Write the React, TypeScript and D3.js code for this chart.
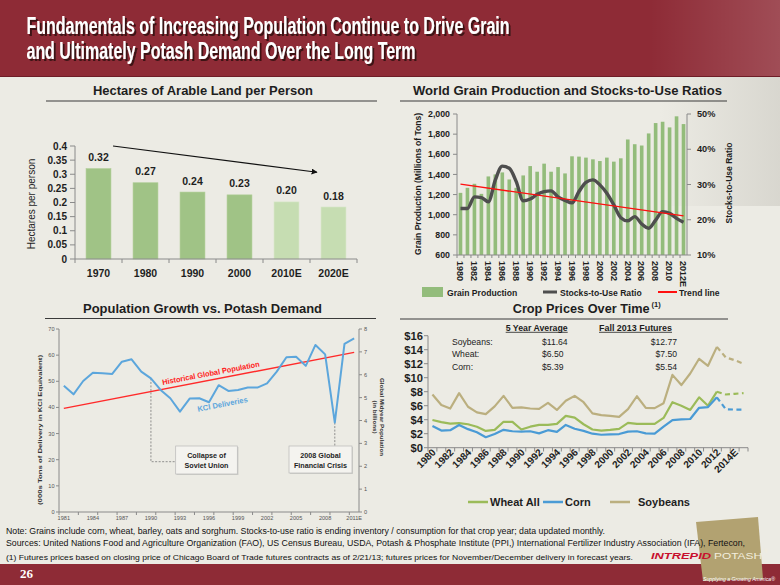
import React from "react";
import * as d3 from "d3";

// ---------------- Data ----------------
const landYears = ["1970", "1980", "1990", "2000", "2010E", "2020E"];
const landValues = [0.32, 0.27, 0.237, 0.227, 0.202, 0.184];
const landIsEstimate = [false, false, false, false, true, true];
const landTicks = [0, 0.05, 0.1, 0.15, 0.2, 0.25, 0.3, 0.35, 0.4];

const grainYears = [1980, 1981, 1982, 1983, 1984, 1985, 1986, 1987, 1988, 1989, 1990, 1991, 1992, 1993, 1994, 1995, 1996, 1997, 1998, 1999, 2000, 2001, 2002, 2003, 2004, 2005, 2006, 2007, 2008, 2009, 2010, 2011, 2012];
const grainProduction = [1217, 1267, 1307, 1207, 1380, 1400, 1420, 1350, 1267, 1390, 1483, 1427, 1507, 1427, 1473, 1410, 1580, 1577, 1567, 1550, 1533, 1567, 1527, 1560, 1747, 1700, 1687, 1807, 1910, 1923, 1867, 1977, 1900];
const stocksToUse = [23.2, 23.2, 26.5, 26.3, 25.1, 31.3, 35.2, 34.6, 30.8, 25.4, 25.9, 27.2, 28.0, 28.2, 26.5, 25.5, 24.8, 28.0, 30.6, 31.3, 29.9, 27.5, 24.2, 20.6, 19.7, 20.9, 18.8, 17.6, 19.9, 22.3, 21.8, 20.4, 19.3];
const trendYears = [1980, 2012];
const trendValues = [30.1, 21.1];
const grainTicks = [600, 800, 1000, 1200, 1400, 1600, 1800, 2000];
const ratioTicks = [10, 20, 30, 40, 50];

const kciYears = [1981, 1982, 1983, 1984, 1985, 1986, 1987, 1988, 1989, 1990, 1991, 1992, 1993, 1994, 1995, 1996, 1997, 1998, 1999, 2000, 2001, 2002, 2003, 2004, 2005, 2006, 2007, 2008, 2009, 2010, 2011];
const kciDeliveries = [48.3, 45.0, 50.1, 53.3, 53.1, 52.8, 57.5, 58.4, 53.7, 51.1, 46.7, 43.5, 38.4, 43.4, 43.5, 42.0, 48.5, 46.3, 46.7, 47.6, 47.6, 49.2, 53.7, 59.2, 59.4, 55.9, 63.9, 60.3, 34.2, 64.3, 66.4];
const popYears = [1981, 2011];
const popBillions = [4.53, 6.98];
const kciTicks = [0, 10, 20, 30, 40, 50, 60, 70];
const popTicks = [0, 1, 2, 3, 4, 5, 6, 7, 8];
const kciLabelYears = [1981, 1984, 1987, 1990, 1993, 1996, 1999, 2002, 2005, 2008, 2011];

const priceYears = [1980, 1981, 1982, 1983, 1984, 1985, 1986, 1987, 1988, 1989, 1990, 1991, 1992, 1993, 1994, 1995, 1996, 1997, 1998, 1999, 2000, 2001, 2002, 2003, 2004, 2005, 2006, 2007, 2008, 2009, 2010, 2011, 2012, 2013, 2014, 2015];
const wheatAll = [3.95, 3.65, 3.45, 3.5, 3.35, 3.0, 2.4, 2.55, 3.7, 3.7, 2.6, 3.0, 3.25, 3.25, 3.4, 4.55, 4.3, 3.35, 2.6, 2.45, 2.55, 2.7, 3.55, 3.4, 3.4, 3.4, 4.25, 6.5, 6.0, 5.4, 7.2, 6.0, 8.0, 7.6, 7.7, 7.8];
const corn = [3.1, 2.45, 2.5, 3.25, 2.65, 2.2, 1.5, 1.95, 2.55, 2.35, 2.3, 2.35, 2.05, 2.5, 2.25, 3.25, 2.7, 2.4, 2.0, 1.85, 1.9, 1.95, 2.3, 2.35, 2.05, 2.0, 3.0, 3.95, 4.05, 4.1, 5.7, 5.8, 7.2, 5.5, 5.45, 5.45];
const soybeans = [7.6, 6.1, 5.6, 7.8, 5.85, 5.05, 4.8, 5.9, 7.4, 5.7, 5.75, 5.6, 5.55, 6.4, 5.4, 6.7, 7.4, 6.5, 4.9, 4.65, 4.55, 4.4, 5.5, 7.35, 5.7, 5.65, 6.35, 10.4, 8.95, 10.6, 12.7, 11.7, 14.4, 12.9, 12.5, 12.0];
const lastActualYear = 2012;
const priceTicks = [0, 2, 4, 6, 8, 10, 12, 14, 16];
const tableCrops = ["Soybeans:", "Wheat:", "Corn:"];
const fiveYearAvg = ["$11.64", "$6.50", "$5.39"];
const fall2013Futures = ["$12.77", "$7.50", "$5.54"];

// ---------------- Style ----------------
const FONT = "'Liberation Sans', Arial, Helvetica, sans-serif";
const NARROW = "'Liberation Sans Narrow', 'Arial Narrow', 'Liberation Sans', Arial, sans-serif";
const RED_BANNER = "#8E2B36";
const BG = "#ECEBE4";
const AXIS = "#8A8A8A";
const TXT = "#1E1E1E";
const C_WHEAT = "#9BBB59";
const C_CORN = "#4A9BD5";
const C_SOY = "#BBAF7F";

function ChartTitle({ x, y, text, len, x1, x2, uy }: any) {
  return (
    <g>
      <text x={x} y={y} textAnchor="middle" fontWeight="bold" fontSize={13} fill={TXT} textLength={len} lengthAdjust="spacingAndGlyphs">{text}</text>
      <line x1={x1} x2={x2} y1={uy} y2={uy} stroke="#3A3A3A" strokeWidth={1.2} />
    </g>
  );
}

function LandChart() {
  const x = d3.scaleBand<string>().domain(landYears).range([75, 357]);
  const y = d3.scaleLinear().domain([0, 0.4]).range([259, 146]);
  const bw = x.bandwidth() * 0.53;
  const fmt = (t: number) => String(+t.toFixed(2));
  return (
    <g>
      <ChartTitle x={203} y={95} text="Hectares of Arable Land per Person" len={220} x1={46} x2={377} uy={101} />
      {landValues.map((v, i) => {
        const cx = x(landYears[i])! + x.bandwidth() / 2;
        return (
          <g key={i}>
            <rect x={cx - bw / 2} y={y(v)} width={bw} height={y(0) - y(v)} fill={landIsEstimate[i] ? "#C6DDB2" : "#A0C386"} stroke={landIsEstimate[i] ? "#D5E6C6" : "#B0CE98"} strokeWidth={0.6} />
            <text x={cx} y={y(v) - 7.5} textAnchor="middle" fontWeight="bold" fontSize={10.5} fill={TXT}>{v.toFixed(2)}</text>
            <text x={cx} y={276.5} textAnchor="middle" fontWeight="bold" fontSize={10.5} fill={TXT}>{landYears[i]}</text>
          </g>
        );
      })}
      <line x1={75} x2={75} y1={y(0.4)} y2={y(0)} stroke={AXIS} />
      <line x1={75} x2={357} y1={y(0)} y2={y(0)} stroke={AXIS} />
      {landTicks.map((t) => (
        <g key={t}>
          <line x1={70} x2={75} y1={y(t)} y2={y(t)} stroke={AXIS} />
          <text x={67} y={y(t) + 3.6} textAnchor="end" fontWeight="bold" fontSize={10} fill={TXT}>{fmt(t)}</text>
        </g>
      ))}
      {landYears.concat([""]).map((c, i) => (
        <line key={i} x1={75 + i * x.step()} x2={75 + i * x.step()} y1={y(0)} y2={y(0) + 4} stroke={AXIS} />
      ))}
      <text transform="translate(35,204) rotate(-90)" textAnchor="middle" fontSize={10} fill={TXT}>Hectares per person</text>
      <line x1={x("1970")! + 38} y1={y(0.4)} x2={x("2020E")! + 7} y2={y(0.307)} stroke="#111" strokeWidth={1.2} markerEnd="url(#arrowHead)" />
    </g>
  );
}

function GrainChart() {
  const x = d3.scaleBand<number>().domain(grainYears).range([457, 687]);
  const cx = (yr: number) => x(yr)! + x.bandwidth() / 2;
  const yL = d3.scaleLinear().domain([600, 2000]).range([255, 114]);
  const yR = d3.scaleLinear().domain([10, 50]).range([255, 114]);
  const bw = x.bandwidth() * 0.52;
  const stockLine = d3.line<number>().x((_, i) => cx(grainYears[i])).y((d) => yR(d)).curve(d3.curveMonotoneX);
  const trendLine = d3.line<number>().x((_, i) => cx(trendYears[i])).y((d) => yR(d));
  return (
    <g>
      <ChartTitle x={567.5} y={95} text="World Grain Production and Stocks-to-Use Ratios" len={309} x1={400} x2={727} uy={101} />
      {grainProduction.map((v, i) => (
        <rect key={i} x={cx(grainYears[i]) - bw / 2} y={yL(v)} width={bw} height={yL(600) - yL(v)} fill="#93BC7B" />
      ))}
      <path d={stockLine(stocksToUse)!} fill="none" stroke="#4E4E4E" strokeWidth={3.4} strokeLinejoin="round" />
      <path d={trendLine(trendValues)!} fill="none" stroke="#FF1010" strokeWidth={1.4} />
      <line x1={457} x2={457} y1={114} y2={255} stroke={AXIS} />
      <line x1={687} x2={687} y1={114} y2={255} stroke={AXIS} />
      <line x1={457} x2={687} y1={255} y2={255} stroke={AXIS} />
      {grainTicks.map((t) => (
        <g key={t}>
          <line x1={453} x2={457} y1={yL(t)} y2={yL(t)} stroke={AXIS} />
          <text x={450} y={yL(t) + 3.2} textAnchor="end" fontWeight="bold" fontSize={8.8} fill={TXT}>{d3.format(",")(t)}</text>
        </g>
      ))}
      {ratioTicks.map((t) => (
        <g key={t}>
          <line x1={687} x2={691} y1={yR(t)} y2={yR(t)} stroke={AXIS} />
          <text x={697} y={yR(t) + 3.2} fontWeight="bold" fontSize={9.2} fill={TXT}>{t + "%"}</text>
        </g>
      ))}
      {grainYears.map((yr, i) => (
        <g key={yr}>
          <line x1={x(yr)!} x2={x(yr)!} y1={255} y2={258} stroke={AXIS} />
          {i % 2 === 0 && (
            <text transform={`translate(${cx(yr) - 3.2},261) rotate(90)`} fontWeight="bold" fontSize={9} fill={TXT}>{yr === 2012 ? "2012E" : String(yr)}</text>
          )}
        </g>
      ))}
      <text transform="translate(421,184) rotate(-90)" textAnchor="middle" fontWeight="bold" fontSize={9.2} fill={TXT} textLength={142} lengthAdjust="spacingAndGlyphs">Grain Production (Millions of Tons)</text>
      <text transform="translate(732,183) rotate(-90)" textAnchor="middle" fontWeight="bold" fontSize={9.2} fill={TXT} textLength={81} lengthAdjust="spacingAndGlyphs">Stocks-to-Use Ratio</text>
      {/* legend */}
      <rect x={422} y={287} width={21} height={10} fill="#93BC7B" />
      <text x={447} y={295.5} fontWeight="bold" fontSize={8.6} fill={TXT}>Grain Production</text>
      <line x1={543} x2={557} y1={292} y2={292} stroke="#4E4E4E" strokeWidth={3} />
      <text x={560} y={295.5} fontWeight="bold" fontSize={8.6} fill={TXT}>Stocks-to-Use Ratio</text>
      <line x1={658} x2={677} y1={292} y2={292} stroke="#FF1010" strokeWidth={2} />
      <text x={679} y={295.5} fontWeight="bold" fontSize={8.6} fill={TXT}>Trend line</text>
    </g>
  );
}

function PotashChart() {
  const x = d3.scaleBand<number>().domain(kciYears).range([59, 359]);
  const cx = (yr: number) => x(yr)! + x.bandwidth() / 2;
  const y = d3.scaleLinear().domain([0, 70]).range([512, 329]);
  const yR = d3.scaleLinear().domain([0, 8]).range([512, 329]);
  const kciLine = d3.line<number>().x((_, i) => cx(kciYears[i])).y((d) => y(d));
  const popLine = d3.line<number>().x((_, i) => cx(popYears[i])).y((d) => yR(d));
  const soviet = { x: cx(1990), y: y(kciDeliveries[kciYears.indexOf(1990)]) };
  const crisis = { x: cx(2009), y: y(kciDeliveries[kciYears.indexOf(2009)]) };
  const tickFont = 5.6;
  return (
    <g>
      <ChartTitle x={202.5} y={313} text="Population Growth vs. Potash Demand" len={239} x1={45} x2={376} uy={318.5} />
      <line x1={59} x2={59} y1={329} y2={512} stroke={AXIS} />
      <line x1={359} x2={359} y1={329} y2={512} stroke={AXIS} />
      <line x1={59} x2={359} y1={512} y2={512} stroke={AXIS} />
      {kciTicks.map((t) => (
        <g key={t}>
          <line x1={56} x2={59} y1={y(t)} y2={y(t)} stroke={AXIS} />
          <text x={54.5} y={y(t) + 2} textAnchor="end" fontSize={tickFont} fill="#555">{t}</text>
        </g>
      ))}
      {popTicks.map((t) => (
        <g key={t}>
          <line x1={359} x2={362} y1={yR(t)} y2={yR(t)} stroke={AXIS} />
          <text x={364} y={yR(t) + 2} fontSize={tickFont} fill="#555">{t}</text>
        </g>
      ))}
      {d3.range(0, kciYears.length + 1, 2).map((i) => (
        <line key={i} x1={59 + i * x.step()} x2={59 + i * x.step()} y1={512} y2={515} stroke={AXIS} />
      ))}
      {kciLabelYears.map((yr) => (
        <text key={yr} x={cx(yr)} y={520} textAnchor="middle" fontSize={tickFont} fill="#555">{yr === 2011 ? "2011E" : String(yr)}</text>
      ))}
      <text transform="translate(42,430) rotate(-90)" textAnchor="middle" fontWeight="bold" fontSize={6.2} fill="#333" textLength={150} lengthAdjust="spacingAndGlyphs">(000s Tons of Delivery in KCl Equivalent)</text>
      <text transform="translate(380,417) rotate(90)" textAnchor="middle" fontWeight="bold" fontSize={6.2} fill="#333">Global Midyear Population</text>
      <text transform="translate(373,417) rotate(90)" textAnchor="middle" fontWeight="bold" fontSize={6.2} fill="#333">(in billions)</text>

      {/* annotations */}
      <polyline points={`${soviet.x},${soviet.y} ${soviet.x},461.7 175.7,461.7`} fill="none" stroke="#777" strokeWidth={0.8} strokeDasharray="2,1.5" />
      <line x1={crisis.x} x2={crisis.x} y1={crisis.y} y2={446} stroke="#777" strokeWidth={0.8} strokeDasharray="2,1.5" />
      <rect x={176.5} y={447} width={62} height={28} fill="#9A9A9A" opacity={0.35} />
      <rect x={175.7} y={446} width={61.6} height={28} fill="#F4F3EF" stroke="#B8B8B8" strokeWidth={0.7} />
      <text x={206.5} y={457.5} textAnchor="middle" fontWeight="bold" fontSize={7.2} fill={TXT}>Collapse of</text>
      <text x={206.5} y={468} textAnchor="middle" fontWeight="bold" fontSize={7.2} fill={TXT}>Soviet Union</text>
      <rect x={290} y={447} width={63} height={27} fill="#9A9A9A" opacity={0.35} />
      <rect x={289} y={446} width={63} height={27} fill="#F4F3EF" stroke="#B8B8B8" strokeWidth={0.7} />
      <text x={320.5} y={457.5} textAnchor="middle" fontWeight="bold" fontSize={7.2} fill={TXT}>2008 Global</text>
      <text x={320.5} y={468} textAnchor="middle" fontWeight="bold" fontSize={7.2} fill={TXT}>Financial  Crisis</text>

      <path d={popLine(popBillions)!} fill="none" stroke="#FF2A2A" strokeWidth={1.4} />
      <path d={kciLine(kciDeliveries)!} fill="none" stroke="#5CA6DC" strokeWidth={2} strokeLinejoin="round" />
      <text transform="translate(162.7,385) rotate(-10.8)" fontWeight="bold" fontSize={7.6} fill="#FF1A1A" textLength={99} lengthAdjust="spacingAndGlyphs">Historical Global Population</text>
      <text transform="translate(198,411.7) rotate(-11)" fontWeight="bold" fontSize={7.6} fill="#5CA6DC" textLength={51} lengthAdjust="spacingAndGlyphs">KCI Deliveries</text>
    </g>
  );
}

function CropChart() {
  const x = d3.scaleBand<number>().domain(priceYears).range([428, 748]);
  const cx = (yr: number) => x(yr)! + x.bandwidth() / 2;
  const y = d3.scaleLinear().domain([0, 16]).range([447.7, 335.7]);
  const series = [
    { name: "Soybeans", values: soybeans, color: C_SOY },
    { name: "Wheat All", values: wheatAll, color: C_WHEAT },
    { name: "Corn", values: corn, color: C_CORN },
  ];
  const lineGen = d3.line<[number, number]>().x((d) => cx(d[0])).y((d) => y(d[1]));
  const legend = [
    { name: "Wheat All", color: C_WHEAT, x: 468 },
    { name: "Corn", color: C_CORN, x: 543 },
    { name: "Soybeans", color: C_SOY, x: 610 },
  ];
  return (
    <g>
      <text x={512.7} y={313} fontWeight="bold" fontSize={12.2} fill={TXT} textLength={137} lengthAdjust="spacingAndGlyphs">Crop Prices Over Time</text>
      <text x={651.5} y={307} fontWeight="bold" fontSize={7.5} fill={TXT}>(1)</text>
      <line x1={400} x2={728} y1={319} y2={319} stroke="#3A3A3A" strokeWidth={1.2} />

      {/* table */}
      <text x={536.7} y={330.5} textAnchor="middle" fontWeight="bold" fontSize={8.8} fill={TXT} textLength={62} lengthAdjust="spacingAndGlyphs">5 Year Average</text>
      <line x1={505.7} x2={567.7} y1={332.3} y2={332.3} stroke={TXT} strokeWidth={0.8} />
      <text x={635.5} y={330.5} textAnchor="middle" fontWeight="bold" fontSize={8.8} fill={TXT} textLength={73} lengthAdjust="spacingAndGlyphs">Fall 2013  Futures</text>
      <line x1={599} x2={672} y1={332.3} y2={332.3} stroke={TXT} strokeWidth={0.8} />
      {tableCrops.map((c, i) => (
        <g key={c} fontSize={8.6} fill="#222">
          <text x={452} y={344.5 + i * 12.8}>{c}</text>
          <text x={542} y={344.5 + i * 12.8}>{fiveYearAvg[i]}</text>
          <text x={677} y={344.5 + i * 12.8} textAnchor="end">{fall2013Futures[i]}</text>
        </g>
      ))}

      {/* axes */}
      <line x1={428} x2={428} y1={335.7} y2={447.7} stroke={AXIS} />
      <line x1={428} x2={748} y1={447.7} y2={447.7} stroke={AXIS} />
      {priceTicks.map((t) => (
        <g key={t}>
          <line x1={424} x2={428} y1={y(t)} y2={y(t)} stroke={AXIS} />
          <text x={423} y={y(t) + 4} textAnchor="end" fontWeight="bold" fontSize={11.2} fill={TXT}>{"$" + t}</text>
        </g>
      ))}
      {priceYears.concat([2016]).map((yr, i) => (
        <line key={yr} x1={428 + i * x.step()} x2={428 + i * x.step()} y1={447.7} y2={451.5} stroke={AXIS} />
      ))}
      {priceYears.filter((yr, i) => i % 2 === 0).map((yr) => (
        <text key={yr} transform={`translate(${cx(yr) + 4},453) rotate(-45)`} textAnchor="end" fontWeight="bold" fontSize={10} fill={TXT}>{yr === 2014 ? "2014E" : String(yr)}</text>
      ))}

      {series.map((s) => {
        const pts = priceYears.map((yr, i) => [yr, s.values[i]] as [number, number]);
        const actual = pts.filter((p) => p[0] <= lastActualYear);
        const forecast = pts.filter((p) => p[0] >= lastActualYear);
        return (
          <g key={s.name}>
            <path d={lineGen(actual)!} fill="none" stroke={s.color} strokeWidth={2.2} strokeLinejoin="round" />
            <path d={lineGen(forecast)!} fill="none" stroke={s.color} strokeWidth={2.2} strokeDasharray="5,3.5" />
          </g>
        );
      })}

      {legend.map((l) => (
        <g key={l.name}>
          <line x1={l.x} x2={l.x + 20} y1={502} y2={502} stroke={l.color} strokeWidth={2.5} />
          <text x={l.x + (l.name === "Soybeans" ? 28 : 22)} y={506} fontWeight="bold" fontSize={11} fill={TXT}>{l.name}</text>
        </g>
      ))}
    </g>
  );
}

export default function App() {
  return (
    <svg width={780} height={585} style={{ position: "absolute", left: 0, top: 0, display: "block" }} fontFamily={FONT}>
      <defs>
        <marker id="arrowHead" viewBox="0 0 10 10" refX="9" refY="5" markerWidth="5" markerHeight="5" orient="auto">
          <path d="M0,0L10,5L0,10z" fill="#111" />
        </marker>
        <linearGradient id="bannerFade" x1="0" x2="1" y1="0" y2="0">
          <stop offset="0" stopColor="#ffffff" stopOpacity={0} />
          <stop offset="1" stopColor="#ffffff" stopOpacity={0.16} />
        </linearGradient>
        <linearGradient id="bodyFade" x1="0" x2="1" y1="0" y2="0">
          <stop offset="0" stopColor="#C8C6BE" stopOpacity={0} />
          <stop offset="1" stopColor="#C8C6BE" stopOpacity={0.55} />
        </linearGradient>
        <filter id="titleShadow" x="-5%" y="-20%" width="110%" height="150%">
          <feDropShadow dx="2" dy="2" stdDeviation="0.5" floodColor="#2E070C" floodOpacity="0.85" />
        </filter>
      </defs>
      <rect x={0} y={0} width={780} height={585} fill={BG} />
      <rect x={660} y={76} width={120} height={130} fill="url(#bodyFade)" />

      {/* banner */}
      <rect x={0} y={0} width={780} height={76} fill={RED_BANNER} />
      <rect x={650} y={0} width={130} height={76} fill="url(#bannerFade)" />
      <line x1={0} x2={780} y1={76.5} y2={76.5} stroke="#6E1D27" strokeWidth={1} />
      <g fontFamily={NARROW} fontWeight="bold" fontSize={24} fill="#FFFFFF" filter="url(#titleShadow)">
        <text x={26.5} y={34} textLength={483} lengthAdjust="spacingAndGlyphs">Fundamentals of Increasing Population Continue to Drive Grain</text>
        <text x={26.5} y={59} textLength={389} lengthAdjust="spacingAndGlyphs">and Ultimately Potash Demand Over the Long Term</text>
      </g>

      <LandChart />
      <GrainChart />
      <PotashChart />
      <CropChart />

      {/* footer */}
      <rect x={0} y={564} width={780} height={21} fill={RED_BANNER} />
      <polygon points="696,522 758,517 763,579 703,581" fill="#B2A271" />
      <g fontFamily={NARROW} fill="#111">
        <text x={6} y={534} fontSize={9.2} textLength={599} lengthAdjust="spacingAndGlyphs">Note: Grains include corn, wheat, barley, oats and sorghum. Stocks-to-use ratio is ending inventory / consumption for that crop year; data updated monthly.</text>
        <text x={6} y={546.3} fontSize={9.2} textLength={739} lengthAdjust="spacingAndGlyphs">Sources: United Nations Food and Agriculture Organization (FAO), US Census Bureau, USDA, Potash &amp; Phosphate Institute (PPI,) International Fertilizer Industry Association (IFA), Fertecon,</text>
        <text x={6} y={560} fontSize={8} textLength={627} lengthAdjust="spacingAndGlyphs">(1) Futures prices based on closing price of Chicago Board of Trade futures contracts as of 2/21/13; futures prices for November/December delivery in forecast years.</text>
      </g>
      <text x={651} y={558.5} fontWeight="bold" fontStyle="italic" fontSize={9.6} fill="#C8102E" textLength={60} lengthAdjust="spacingAndGlyphs">INTREPID</text>
      <text x={714} y={558.5} fontSize={9.6} fill="#F3EEDD" textLength={48} lengthAdjust="spacingAndGlyphs">POTASH</text>
      <text x={764.5} y={552.5} fontSize={4.5} fill="#F3EEDD">®</text>
      <text x={20} y={577.5} fontFamily="'Liberation Serif', 'Times New Roman', serif" fontWeight="bold" fontSize={13} fill="#FFFFFF">26</text>
      <text x={703} y={581} fontStyle="italic" fontSize={5.2} fill="#FFFFFF" textLength={72} lengthAdjust="spacingAndGlyphs">Supplying a Growing America®</text>
    </svg>
  );
}
